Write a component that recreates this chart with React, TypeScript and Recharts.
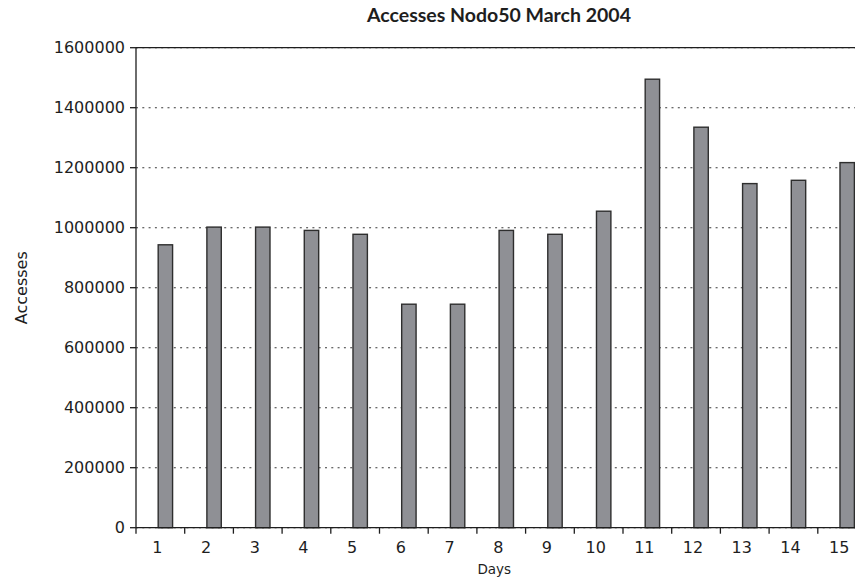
import React from "react";
import {
  BarChart,
  Bar,
  XAxis,
  YAxis,
  CartesianGrid,
  ReferenceLine,
} from "recharts";

const days = ["1", "2", "3", "4", "5", "6", "7", "8", "9", "10", "11", "12", "13", "14", "15"];
const accesses = [
  943000, 1002000, 1002000, 991000, 978000, 745000, 745000, 991000, 978000,
  1055000, 1495000, 1335000, 1147000, 1158000, 1217000,
];
const yTicks = [0, 200000, 400000, 600000, 800000, 1000000, 1200000, 1400000, 1600000];

const data = days.map((d, i) => ({ day: d, accesses: accesses[i] }));

const PLOT_W = 730.5;
const BAND = PLOT_W / days.length;
const FONT = "'DejaVu Sans', sans-serif";
const INK = "#1e1e1e";

// bars sit a little right of the category centre, like the original
const OffsetBar = (props: any) => {
  const { x, y, width, height } = props;
  return (
    <rect
      x={x + width * 0.36}
      y={y}
      width={width}
      height={height}
      fill="#8f9095"
      stroke="#2e2e2e"
      strokeWidth={1.4}
    />
  );
};

// category ticks sit on the boundaries between days
const DayTick = (props: any) => {
  const { x, y, payload, index } = props;
  const left = x - BAND / 2;
  return (
    <g>
      <line x1={left} x2={left} y1={y} y2={y + 6} stroke={INK} strokeWidth={1.3} />
      {index === days.length - 1 && (
        <line x1={x + BAND / 2} x2={x + BAND / 2} y1={y} y2={y + 6} stroke={INK} strokeWidth={1.3} />
      )}
      <text
        x={x - 3}
        y={y + 25.5}
        textAnchor="middle"
        fill={INK}
        fontSize={16}
        fontFamily={FONT}
      >
        {payload.value}
      </text>
    </g>
  );
};

export default function App() {
  return (
    <div
      style={{
        position: "fixed",
        left: 0,
        top: 0,
        width: 855,
        height: 580,
        overflow: "hidden",
        background: "#fff",
      }}
    >
      <div
        style={{
          position: "absolute",
          left: 0,
          top: 3,
          width: 998,
          textAlign: "center",
          fontFamily: "Lato, sans-serif",
          fontWeight: 700,
          fontSize: 19.5,
          color: INK,
          lineHeight: "24px",
        }}
      >
        Accesses Nodo50 March 2004
      </div>
      <BarChart
        width={136 + PLOT_W + 10}
        height={580}
        data={data}
        margin={{ top: 47.7, right: 10, left: 0, bottom: 0 }}
        barSize={14.4}
      >
        <CartesianGrid
          vertical={false}
          stroke="#3a3a3a"
          strokeDasharray="2 4.3"
          strokeWidth={1.1}
        />
        <XAxis
          dataKey="day"
          height={52.3}
          axisLine={{ stroke: INK, strokeWidth: 1.3 }}
          tickLine={false}
          tickSize={0}
          tickMargin={0}
          interval={0}
          tick={<DayTick />}
          label={{
            value: "Days",
            position: "insideBottom",
            offset: 6,
            dx: -7,
            fill: INK,
            fontSize: 13.5,
            fontFamily: FONT,
          }}
        />
        <YAxis
          width={136}
          domain={[0, 1600000]}
          ticks={yTicks}
          interval={0}
          axisLine={{ stroke: INK, strokeWidth: 1.3 }}
          tickLine={{ stroke: INK, strokeWidth: 1.3 }}
          tickSize={6}
          tickMargin={5}
          tick={{ fill: INK, fontSize: 16, fontFamily: FONT }}
          label={{
            value: "Accesses",
            angle: -90,
            position: "center",
            dx: -47,
            fill: INK,
            fontSize: 16,
            fontFamily: FONT,
          }}
        />
        <ReferenceLine y={1600000} stroke={INK} strokeWidth={1.3} />
        <Bar
          dataKey="accesses"
          shape={<OffsetBar />}
          isAnimationActive={false}
        />
      </BarChart>
    </div>
  );
}
